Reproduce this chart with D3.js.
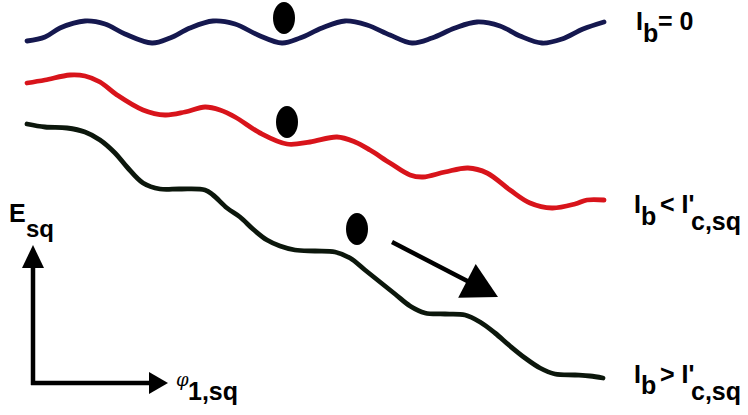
<!DOCTYPE html>
<html>
<head>
<meta charset="utf-8">
<script src="https://cdn.jsdelivr.net/npm/d3@7"></script>
<style>
  html, body { margin: 0; padding: 0; background: #fff; }
  svg { display: block; }
  text { font-family: "Liberation Sans", Arial, sans-serif; font-weight: bold; fill: #000; }
</style>
</head>
<body>
<svg id="chart" width="748" height="415"></svg>
<script>
// ---- Data (phase φ in arbitrary units, energy E_sq in arbitrary units) ----
// I_b = 0 : untilted washboard
const curveZero = [
  [0,359],[18,363],[33,372],[58,379],[78,376],[98,366],[125,357],[143,362],[163,372],
  [186,379],[208,376],[231,365],[255,357],[273,362],[295,372],[318,379],[340,375],
  [363,365],[385,357],[405,362],[428,372],[450,378],[473,374],[493,364],[515,357],
  [535,361],[556,371],[577,378]
];
// I_b < I'_c,sq : tilted washboard with local minima
const curveBelow = [
  [0,317],[18,320],[43,325],[58,324],[73,318],[90,305],[116,290],[138,285],[158,288],
  [178,293],[193,290],[208,283],[233,267],[260,256],[283,258],[310,263],[328,258],
  [343,250],[363,237],[383,225],[396,223],[418,228],[441,232],[460,227],[483,210],
  [503,197],[525,192],[548,196],[560,200],[577,200]
];
// I_b > I'_c,sq : no local minima
const curveAbove = [
  [0,276],[18,273],[40,272],[58,268],[73,260],[88,247],[100,233],[116,217],[133,211],
  [153,211],[178,210],[186,205],[200,192],[213,183],[227,170],[240,160],[253,154],
  [268,150],[288,149],[308,148],[323,142],[338,130],[353,118],[368,106],[383,94],
  [398,87],[418,86],[438,85],[453,78],[468,67],[483,54],[498,42],[513,32],[528,26],
  [548,25],[563,24],[576,22]
];
// Particle (phase point) positions on each curve
const particles = [[257,382],[260,278],[330,171]];
// Motion arrow (start, end)
const motionArrow = [[365,158],[471,103]];

const series = [
  { name: "zero",  values: curveZero,  color: "#15184f", label: [["I",0],["b",1],["= 0",0]] },
  { name: "below", values: curveBelow, color: "#d8141b", label: [["I",0],["b",1],["< I'",0],["c,sq",2]] },
  { name: "above", values: curveAbove, color: "#0c170c", label: [["I",0],["b",1],["> I'",0],["c,sq",2]] }
];

// ---- Scales ----
const svg = d3.select("#chart");
const x = d3.scaleLinear().domain([0, 577]).range([27, 604]);
const y = d3.scaleLinear().domain([0, 400]).range([400, 0]);

const line = d3.line()
  .x(d => x(d[0]))
  .y(d => y(d[1]))
  .curve(d3.curveCatmullRom.alpha(0.5));

// ---- Curves ----
svg.selectAll("path.curve")
  .data(series)
  .join("path")
  .attr("class", "curve")
  .attr("d", d => line(d.values))
  .attr("fill", "none")
  .attr("stroke", d => d.color)
  .attr("stroke-width", 4.8)
  .attr("stroke-linecap", "round")
  .attr("stroke-linejoin", "round");

// ---- Particles ----
svg.selectAll("ellipse.particle")
  .data(particles)
  .join("ellipse")
  .attr("class", "particle")
  .attr("cx", d => x(d[0]))
  .attr("cy", d => y(d[1]))
  .attr("rx", 11)
  .attr("ry", 16)
  .attr("fill", "#000");

// ---- Arrow helper ----
function arrow(g, x1, y1, x2, y2, headLen, headHalf, width) {
  const dx = x2 - x1, dy = y2 - y1, L = Math.hypot(dx, dy);
  const ux = dx / L, uy = dy / L, px = -uy, py = ux;
  const bx = x2 - ux * headLen, by = y2 - uy * headLen;
  g.append("line")
    .attr("x1", x1).attr("y1", y1)
    .attr("x2", bx + ux * 2).attr("y2", by + uy * 2)
    .attr("stroke", "#000").attr("stroke-width", width);
  g.append("path")
    .attr("d", `M${x2},${y2}L${bx + px * headHalf},${by + py * headHalf}L${bx - px * headHalf},${by - py * headHalf}Z`)
    .attr("fill", "#000");
}

// motion arrow
arrow(svg, x(motionArrow[0][0]), y(motionArrow[0][1]), x(motionArrow[1][0]), y(motionArrow[1][1]), 35, 19, 4.5);

// ---- Axes (arrows) ----
const origin = [33, 383];
const axG = svg.append("g");
axG.append("line").attr("x1", origin[0] - 2).attr("y1", origin[1])
  .attr("x2", 152).attr("y2", origin[1]).attr("stroke", "#000").attr("stroke-width", 4.5);
axG.append("path").attr("d", `M168,${origin[1]}L149,${origin[1] - 11}L149,${origin[1] + 11}Z`).attr("fill", "#000");
axG.append("line").attr("x1", origin[0]).attr("y1", origin[1] + 2)
  .attr("x2", origin[0]).attr("y2", 265).attr("stroke", "#000").attr("stroke-width", 4.5);
axG.append("path").attr("d", `M${origin[0]},245L${origin[0] - 11},268L${origin[0] + 11},268Z`).attr("fill", "#000");

// axis labels
const eLab = svg.append("text").attr("x", 9).attr("y", 222).style("font-size", "25px");
eLab.append("tspan").text("E");
eLab.append("tspan").attr("x", 26).attr("y", 237).style("font-size", "24px").text("sq");

const pLab = svg.append("text").attr("x", 176).attr("y", 386);
pLab.append("tspan").style("font-size", "18px").style("font-style", "italic").style("font-weight", "normal")
  .style("font-family", "'DejaVu Serif', serif").text("φ");
pLab.append("tspan").attr("x", 188).attr("y", 400).style("font-size", "25px").text("1,sq");

// ---- Right-side labels ----
const labelPos = [
  { base: 30,  sub1: 42,  sub2: 0,   xs: [636, 643, 658] },
  { base: 213, sub1: 225, sub2: 230, xs: [634, 641, 660, 691] },
  { base: 383, sub1: 394, sub2: 400, xs: [634, 641, 660, 691] }
];
series.forEach((s, i) => {
  const p = labelPos[i];
  const t = svg.append("text").style("font-size", "25px");
  s.label.forEach(([txt, lvl], j) => {
    t.append("tspan")
      .attr("x", p.xs[j])
      .attr("y", lvl === 0 ? p.base : (lvl === 1 ? p.sub1 : p.sub2))
      .text(txt);
  });
});
</script>
</body>
</html>
